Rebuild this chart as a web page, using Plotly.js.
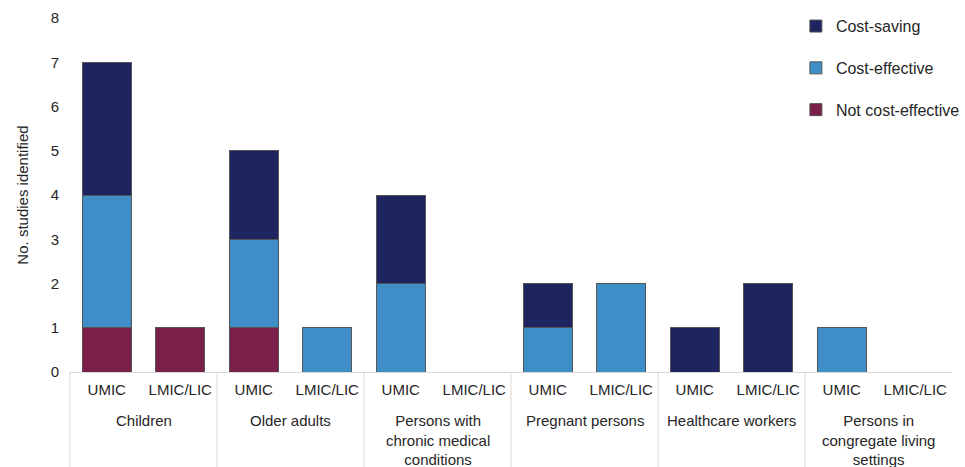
<!DOCTYPE html>
<html>
<head>
<meta charset="utf-8">
<script src="https://cdn.plot.ly/plotly-3.0.1.min.js"></script>
<style>html,body{margin:0;padding:0;background:#fff;}#chart{width:965px;height:467px;}</style>
</head>
<body>
<div id="chart"></div>
<script>
const groups = ["Children","Children","Older adults","Older adults",
  "Persons with<br>chronic medical<br>conditions","Persons with<br>chronic medical<br>conditions",
  "Pregnant persons","Pregnant persons","Healthcare workers","Healthcare workers",
  "Persons in<br>congregate living<br>settings","Persons in<br>congregate living<br>settings"];
const incomes = ["UMIC","LMIC/LIC","UMIC","LMIC/LIC","UMIC","LMIC/LIC","UMIC","LMIC/LIC","UMIC","LMIC/LIC","UMIC","LMIC/LIC"];
const notCostEffective = [1,1,1,0,0,0,0,0,0,0,0,0];
const costEffective    = [3,0,2,1,2,0,1,2,0,0,1,0];
const costSaving       = [3,0,2,0,2,0,1,0,1,2,0,0];

// unique category keys (group + income), labelled with the income level
const keys = groups.map((g, i) => g + ' | ' + incomes[i]);
const n = keys.length;

// group spans derived from the data
const spans = [];
groups.forEach((g, i) => {
  if (!spans.length || spans[spans.length - 1].name !== g) spans.push({name: g, start: i, end: i});
  else spans[spans.length - 1].end = i;
});

const txtColor = '#262626';
const divColor = '#d9d9d9';
const annotations = spans.map(s => ({
  x: (s.start + s.end) / 2, xref: 'x', y: -0.107, yref: 'paper',
  text: s.name, showarrow: false, xanchor: 'center', yanchor: 'top', align: 'center',
  font: {size: 15, color: txtColor}
}));
const shapes = spans.map(s => ({
  type: 'line', xref: 'paper', yref: 'paper',
  x0: (s.start) / n, x1: (s.start) / n, y0: 0, y1: -0.27,
  line: {color: divColor, width: 1}
}));

const line = {color:'#555555', width:1};
const traces = [
  {type:'bar', name:'Not cost-effective', x:keys, y:notCostEffective, marker:{color:'#7a1f47', line:line}, legendgroup:'a', legendrank:3},
  {type:'bar', name:'Cost-effective', x:keys, y:costEffective, marker:{color:'#3f8ec8', line:line}, legendgroup:'b', legendrank:2},
  {type:'bar', name:'Cost-saving', x:keys, y:costSaving, marker:{color:'#1e2460', line:line}, legendgroup:'c', legendrank:1}
];
const layout = {
  width:965, height:467,
  margin:{l:70, r:0, t:18, b:95},
  barmode:'stack', bargap:0.33,
  paper_bgcolor:'#fff', plot_bgcolor:'#fff',
  font:{family:'Liberation Sans, Arial, sans-serif', size:15, color:txtColor},
  xaxis:{type:'category', range:[-0.5, n - 0.5], tickvals:keys, ticktext:incomes,
    showline:true, linecolor:divColor, linewidth:1, showgrid:false, ticks:'', ticklabelstandoff:4,
    tickangle:0, tickfont:{size:15, color:txtColor}, automargin:false},
  yaxis:{range:[0,8], dtick:1, showgrid:false, zeroline:false, showline:false, ticks:'',
    ticklabelstandoff:10,
    tickfont:{size:15, color:txtColor},
    title:{text:'No. studies identified', font:{size:15, color:txtColor}, standoff:18}},
  legend:{x:0.823, y:1.025, xanchor:'left', yanchor:'top', traceorder:'grouped', tracegroupgap:18,
    font:{size:16, color:txtColor}, bgcolor:'rgba(0,0,0,0)'},
  annotations: annotations,
  shapes: shapes,
  showlegend:true
};
Plotly.newPlot('chart', traces, layout, {displayModeBar:false, staticPlot:true});
</script>
</body>
</html>
